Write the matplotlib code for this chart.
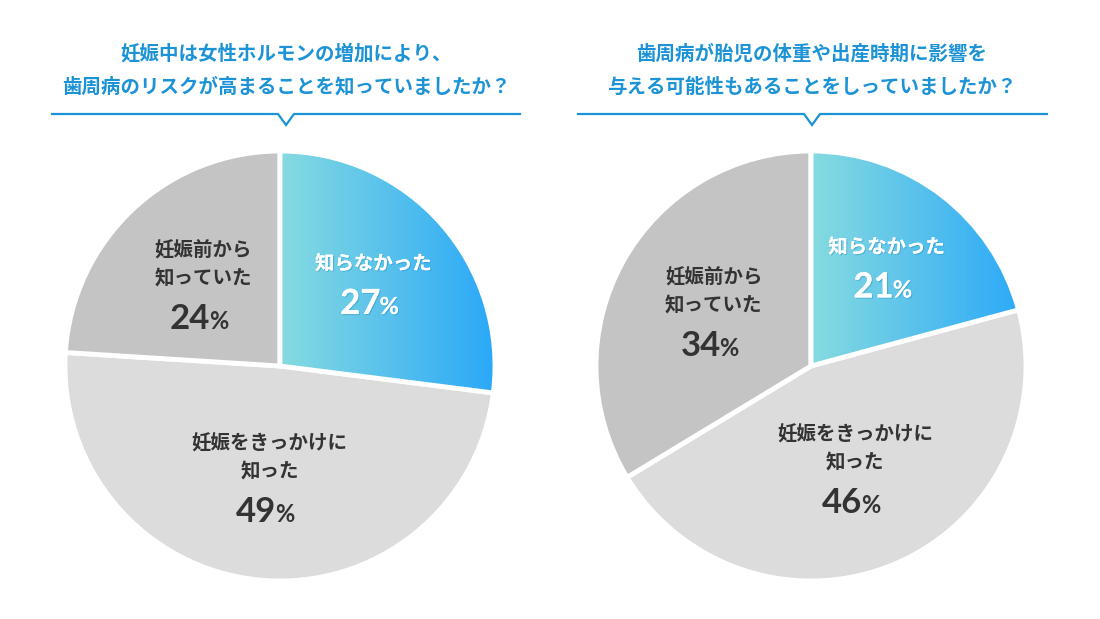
import numpy as np
import matplotlib.pyplot as plt
import matplotlib.patheffects as pe
from matplotlib.colors import LinearSegmentedColormap

plt.rcParams['font.family'] = ['Noto Sans CJK JP', 'DejaVu Sans']

# --- データ ---
titles = [
    ['妊娠中は女性ホルモンの増加により、', '歯周病のリスクが高まることを知っていましたか？'],
    ['歯周病が胎児の体重や出産時期に影響を', '与える可能性もあることをしっていましたか？'],
]
labels = [['知らなかった'], ['妊娠をきっかけに', '知った'], ['妊娠前から', '知っていた']]
left_values = [27, 49, 24]
right_values = [21, 46, 34]

BLUE = '#1b93d6'
GRAYS = ['#dcdcdc', '#c4c4c4']
TEXT = '#333333'
grad_cmap = LinearSegmentedColormap.from_list('g', ['#86dbe0', '#2aa8f8'])

W, H = 1100, 619
fig = plt.figure(figsize=(11, 6.19), dpi=100)
ax = fig.add_axes([0, 0, 1, 1])

R = 215
centers = [(280, H - 366), (811, H - 366)]
title_x = [286, 812]
line_span = [(52, 520), (578, 1047)]


def draw_pie(cx, cy, values, tx, span, title):
    # タイトル
    ax.text(tx, H - 54, title[0], ha='center', va='center', fontsize=14,
            fontweight='bold', color=BLUE)
    ax.text(tx, H - 87, title[1], ha='center', va='center', fontsize=14,
            fontweight='bold', color=BLUE)
    ly = H - 114
    ax.plot([span[0], tx - 8, tx, tx + 8, span[1]], [ly, ly, ly - 11, ly, ly],
            color=BLUE, lw=1.6, solid_joinstyle='miter')

    wedges, _ = ax.pie(values, center=(cx, cy), radius=R, startangle=90,
                       counterclock=False, colors=['white'] + GRAYS,
                       wedgeprops=dict(edgecolor='white', linewidth=3.5),
                       frame=True)
    # 青のグラデーション
    w0 = wedges[0]
    grad = np.linspace(0, 1, 256).reshape(1, -1)
    im = ax.imshow(grad, cmap=grad_cmap, aspect='auto',
                   extent=[cx, cx + R, cy - R, cy + R], zorder=1.5)
    im.set_clip_path(w0)
    w0.set_facecolor('none')
    w0.set_zorder(3)

    total = sum(values)
    start = 90
    for i, (v, lab) in enumerate(zip(values, labels)):
        mid = np.deg2rad(start - v / total * 360 / 2)
        start -= v / total * 360
        n = len(lab)
        r = (0.58 if n == 1 else 0.52) * R
        x, y = cx + r * np.cos(mid), cy + r * np.sin(mid)
        color = 'white' if i == 0 else TEXT
        effects = [pe.withSimplePatchShadow(offset=(0.8, -0.8), shadow_rgbFace='#1a7fb8', alpha=0.35),
                   pe.Normal()] if i == 0 else None
        # テキストブロック: 行 + パーセント
        D = 28 * (n - 1) + 39
        texts = []
        for j, line in enumerate(lab):
            texts.append(ax.text(x, y + D / 2 - j * 28, line, ha='center', va='center',
                                 fontsize=14, fontweight='bold', color=color, zorder=5))
        py = y - D / 2 - 11
        texts.append(ax.text(x + 7, py, str(v), ha='right', va='baseline', fontsize=25,
                             fontweight='bold', color=color, family=['Lato', 'DejaVu Sans'], zorder=5))
        texts.append(ax.text(x + 6, py, '%', ha='left', va='baseline', fontsize=17,
                             fontweight='bold', color=color, family=['Lato', 'DejaVu Sans'], zorder=5))
        if effects:
            for t in texts:
                t.set_path_effects(effects)


draw_pie(*centers[0], left_values, title_x[0], line_span[0], titles[0])
draw_pie(*centers[1], right_values, title_x[1], line_span[1], titles[1])

ax.set_xlim(0, W)
ax.set_ylim(0, H)
ax.set_aspect('equal')
ax.axis('off')
fig.savefig('out.png', dpi=100, facecolor='white')
